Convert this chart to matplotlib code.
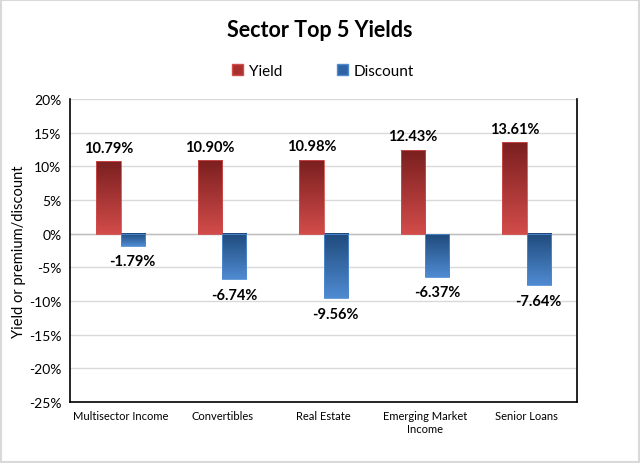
import numpy as np
import matplotlib.pyplot as plt
from matplotlib.patches import Rectangle
from matplotlib.colors import LinearSegmentedColormap

plt.rcParams['font.family'] = ['Lato', 'DejaVu Sans']

categories = ['Multisector Income', 'Convertibles', 'Real Estate', 'Emerging Market\nIncome', 'Senior Loans']
yields = [10.79, 10.90, 10.98, 12.43, 13.61]
discounts = [-1.79, -6.74, -9.56, -6.37, -7.64]

red_cmap = LinearSegmentedColormap.from_list('red', ['#d24c4a', '#7a1f1f'])
blue_cmap = LinearSegmentedColormap.from_list('blue', ['#4f8bd2', '#1f4a7c'])

fig = plt.figure(figsize=(6.4, 4.64), dpi=100)
ax = fig.add_axes([0.109, 0.1315, 0.793, 0.653])

x = np.arange(len(categories))
w = 0.24
grad = np.linspace(0, 1, 256).reshape(-1, 1)


def grad_bar(x0, val, cmap):
    lo, hi = min(0, val), max(0, val)
    # dunkel oben, hell unten
    ax.imshow(grad, extent=[x0, x0 + w, lo, hi], origin='lower', cmap=cmap,
              aspect='auto', zorder=3)
    ax.add_patch(Rectangle((x0, lo), w, hi - lo, fill=False, lw=0.6,
                           ec=cmap(0.0), zorder=4))


for i in range(len(categories)):
    grad_bar(x[i] - w, yields[i], red_cmap)
    grad_bar(x[i], discounts[i], blue_cmap)
    ax.text(x[i] - w / 2, yields[i] + 2.0, f'{yields[i]:.2f}%', ha='center', va='center',
            fontsize=10.5, fontweight='bold', zorder=5)
    ax.text(x[i] + w / 2, discounts[i] - 2.3, f'{discounts[i]:.2f}%', ha='center', va='center',
            fontsize=10.5, fontweight='bold', zorder=5)

ax.set_xlim(-0.5, len(categories) - 0.5)
ax.set_ylim(-25, 20)
ax.set_yticks(np.arange(-25, 21, 5))
ax.set_yticklabels([f'{t}%' for t in range(-25, 21, 5)], fontsize=10)
ax.set_xticks(x)
ax.set_xticklabels(categories, fontsize=8)
ax.tick_params(axis='both', length=0, pad=6)
ax.yaxis.grid(True, color='#d9d9d9', lw=1)
ax.set_axisbelow(True)
ax.axhline(0, color='#bfbfbf', lw=1, zorder=2)
for s in ['left', 'right', 'bottom']:
    ax.spines[s].set_color('black')
    ax.spines[s].set_linewidth(1.2)
ax.spines['top'].set_visible(False)
ax.set_ylabel('Yield or premium/discount', fontsize=10.5, labelpad=2)

fig.text(0.5, 0.935, 'Sector Top 5 Yields', ha='center', va='center',
         fontsize=15.5, fontweight='bold')

handles = [Rectangle((0, 0), 1, 1, fc='#a8302e', ec='#d24c4a'),
           Rectangle((0, 0), 1, 1, fc='#2f63a4', ec='#4f8bd2')]
fig.legend(handles, ['Yield', 'Discount'], loc='center', bbox_to_anchor=(0.505, 0.845),
           ncol=2, frameon=False, fontsize=11, handlelength=0.7, handleheight=0.7,
           columnspacing=3.6, handletextpad=0.4)

fig.patches.append(Rectangle((0.002, 0.002), 0.996, 0.996, transform=fig.transFigure,
                             fill=False, ec='#d9d9d9', lw=1.5))

fig.savefig('out.png', dpi=100)
